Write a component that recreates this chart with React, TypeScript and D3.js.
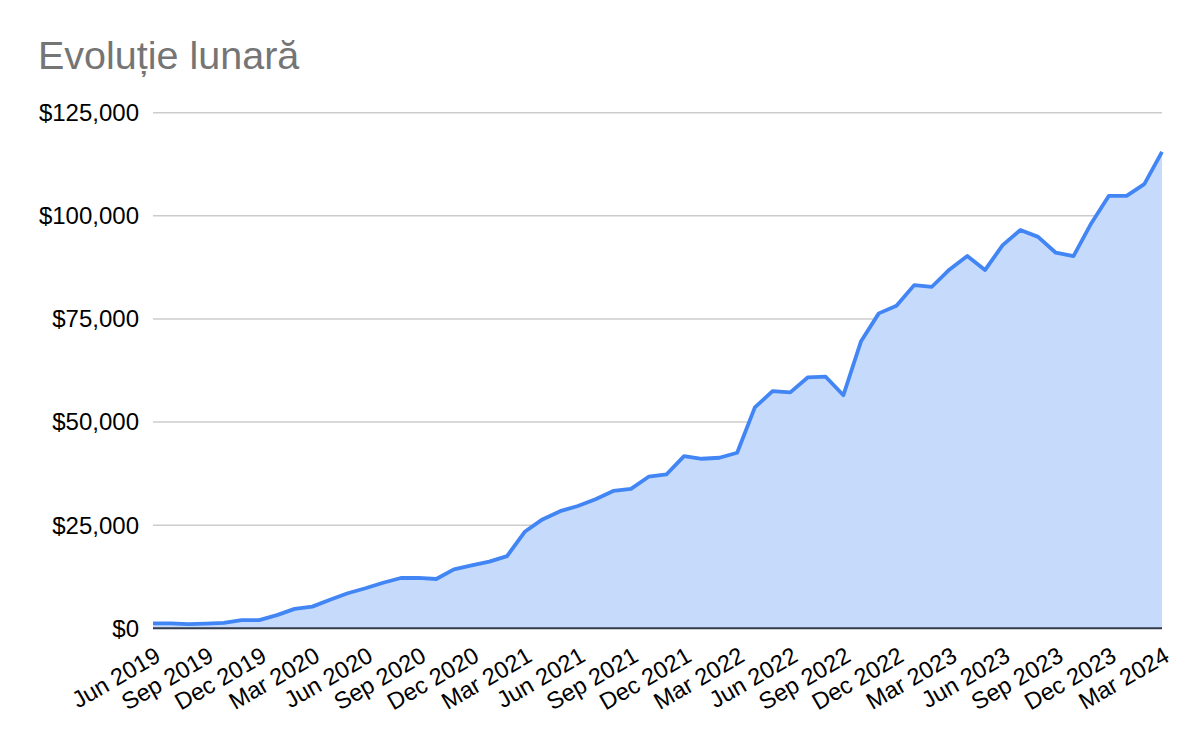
import React from "react";
import * as d3 from "d3";

const TITLE = "Evoluție lunară";
const MONTH_NAMES = ["Jan", "Feb", "Mar", "Apr", "May", "Jun", "Jul", "Aug", "Sep", "Oct", "Nov", "Dec"];
const START_YEAR = 2019;
const START_MONTH = 5; // June (0-based)
const VALUES = [
  1200, 1200, 1000, 1150, 1300, 2000, 2000, 3200, 4700, 5250,
  6900, 8500, 9700, 11050, 12200, 12200, 11950, 14300, 15250, 16150,
  17500, 23400, 26400, 28400, 29650, 31300, 33300, 33800, 36750, 37300,
  41750, 41100, 41350, 42550, 53550, 57500, 57200, 60850, 61000, 56500,
  69600, 76350, 78200, 83200, 82800, 87000, 90250, 86850, 92900, 96550,
  94900, 91050, 90250, 98150, 104850, 104850, 107700, 115500,
];
const Y_TICKS = [0, 25000, 50000, 75000, 100000, 125000];

const W = 1200;
const H = 742;
const M = { left: 153, right: 1162, top: 112.7, bottom: 628.3 };

export default function App() {
  const x = d3.scaleLinear().domain([0, VALUES.length - 1]).range([M.left, M.right]);
  const y = d3.scaleLinear().domain([0, 125000]).range([M.bottom, M.top]);
  const area = d3.area<number>().x((_, i) => x(i)).y0(y(0)).y1((d) => y(d));
  const line = d3.line<number>().x((_, i) => x(i)).y((d) => y(d));
  const fmt = (v: number) => "$" + d3.format(",")(v);
  const labelIdx = d3.range(0, VALUES.length, 3);
  const labelText = (i: number) => {
    const m = START_MONTH + i;
    return MONTH_NAMES[m % 12] + " " + (START_YEAR + Math.floor(m / 12));
  };
  const font = "Arial, 'Liberation Sans', sans-serif";

  return (
    <div style={{ position: "absolute", left: 0, top: 0 }}>
      <svg width={W} height={H} style={{ display: "block", background: "#fff" }}>
        <text x={38} y={69} fontFamily={font} fontSize={39.5} fill="#757575">
          {TITLE}
        </text>
        {Y_TICKS.map((t) => (
          <g key={t}>
            {t > 0 && (
              <line x1={M.left} x2={M.right} y1={y(t)} y2={y(t)} stroke="#cccccc" strokeWidth={1.6} />
            )}
            <text
              x={139}
              y={y(t)}
              dy="0.35em"
              textAnchor="end"
              fontFamily={font}
              fontSize={24}
              fill="#000"
            >
              {fmt(t)}
            </text>
          </g>
        ))}
        <path d={area(VALUES) || ""} fill="#c6dafc" />
        <path d={line(VALUES) || ""} fill="none" stroke="#4285f4" strokeWidth={3.8} strokeLinejoin="round" />
        <line x1={M.left} x2={M.right} y1={y(0)} y2={y(0)} stroke="#333a4a" strokeWidth={2} />
        {labelIdx.map((i) => (
          <text
            key={i}
            transform={`translate(${x(i) + 9},${y(0) + 32}) rotate(-30)`}
            textAnchor="end"
            fontFamily={font}
            fontSize={23.6}
            fill="#000"
          >
            {labelText(i)}
          </text>
        ))}
      </svg>
    </div>
  );
}
